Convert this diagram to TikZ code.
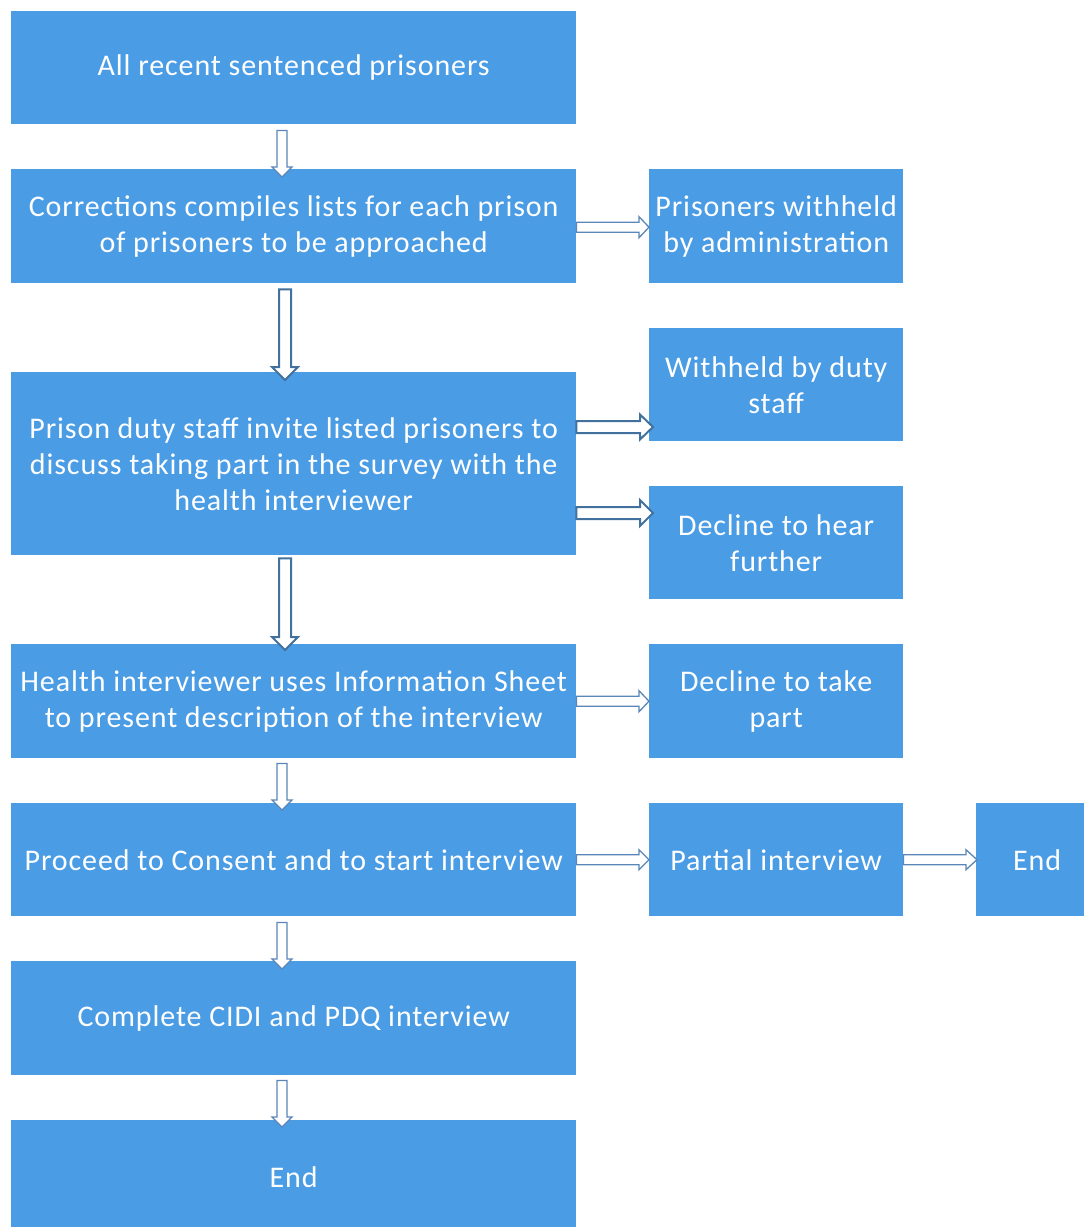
\documentclass[tikz,border=0pt]{standalone}
\usepackage{fontspec}
\setmainfont{Carlito}[LetterSpace=3.0]
\usetikzlibrary{calc}
\definecolor{boxblue}{HTML}{4A9CE5}
\definecolor{arrowdark}{HTML}{41719C}
\definecolor{arrowlight}{HTML}{5A86B8}
\newcommand\varrow[6]{%
  \draw[#6] let \p1=(#1), \p2=(#2) in
    (\x1-#3pt,\y1) -- (\x1-#3pt,\y2+#5pt) -- (\x1-#4pt,\y2+#5pt) -- (\x1,\y2)
    -- (\x1+#4pt,\y2+#5pt) -- (\x1+#3pt,\y2+#5pt) -- (\x1+#3pt,\y1) -- cycle;}
\newcommand\harrow[6]{%
  \draw[#6] let \p1=(#1), \p2=(#2) in
    (\x1,\y1+#3pt) -- (\x2-#5pt,\y1+#3pt) -- (\x2-#5pt,\y1+#4pt) -- (\x2,\y1)
    -- (\x2-#5pt,\y1-#4pt) -- (\x2-#5pt,\y1-#3pt) -- (\x1,\y1-#3pt) -- cycle;}
\begin{document}
\begin{tikzpicture}[x=1pt,y=-1pt,
  box/.style={fill=boxblue, text=white, align=center, inner sep=0pt, anchor=north west,
    font=\fontsize{30}{36}\selectfont},
  wide/.style={box, minimum width=565pt},
  side/.style={box, minimum width=254pt},
  thinarrow/.style={draw=arrowlight, fill=white, line width=1.3pt, line join=miter},
  thickarrow/.style={draw=arrowdark, fill=white, line width=2pt, line join=miter}]
\useasboundingbox (0,0) rectangle (1084,1227);

\node[wide, minimum height=113pt] (b1) at (11,11) {All recent sentenced prisoners};
\node[wide, minimum height=114pt] (b2) at (11,169) {Corrections compiles lists for each prison\\of prisoners to be approached};
\node[side, minimum height=114pt] (b3) at (649,169) {Prisoners withheld\\by administration};
\node[wide, minimum height=183pt] (b4) at (11,372) {Prison duty staff invite listed prisoners to\\discuss taking part in the survey with the\\health interviewer};
\node[side, minimum height=113pt] (b5) at (649,328) {Withheld by duty\\staff};
\node[side, minimum height=113pt] (b6) at (649,486) {Decline to hear\\further};
\node[wide, minimum height=114pt] (b7) at (11,644) {Health interviewer uses Information Sheet\\to present description of the interview};
\node[side, minimum height=114pt] (b8) at (649,644) {Decline to take\\part};
\node[wide, minimum height=113pt] (b9) at (11,803) {Proceed to Consent and to start interview};
\node[side, minimum height=113pt] (b10) at (649,803) {Partial interview};
\node[box, minimum width=122pt, minimum height=113pt] (b11) at (976,803) {End};
\node[wide, minimum height=114pt] (b12) at (11,961) {Complete CIDI and PDQ interview};
\node[wide, minimum height=113pt] (b13) at (11,1120) {End};

% vertical arrows
\varrow{$(b1.south west)+(271,6)$}{$(b2.north west)+(271,8)$}{5}{10}{10}{thinarrow}
\varrow{$(b2.south west)+(274,6)$}{$(b4.north west)+(274,8)$}{6}{13}{13}{thickarrow}
\varrow{$(b4.south west)+(274,3)$}{$(b7.north west)+(274,6)$}{6}{13}{13}{thickarrow}
\varrow{$(b7.south west)+(271,5)$}{$(b9.north west)+(271,7)$}{5}{10}{10}{thinarrow}
\varrow{$(b9.south west)+(271,6)$}{$(b12.north west)+(271,8)$}{5}{10}{10}{thinarrow}
\varrow{$(b12.south west)+(271,5)$}{$(b13.north west)+(271,7)$}{5}{10}{10}{thinarrow}

% horizontal arrows
\harrow{$(b2.east)+(0,1)$}{b3.west}{5}{10.5}{10}{thinarrow}
\harrow{$(b4.north east)+(0,55)$}{$(b5.west)+(4,0)$}{6}{12.5}{13}{thickarrow}
\harrow{$(b4.north east)+(0,141)$}{$(b6.west)+(4,0)$}{6}{13}{13}{thickarrow}
\harrow{b7.east}{b8.west}{5}{10.5}{10}{thinarrow}
\harrow{b9.east}{b10.west}{5}{10}{10}{thinarrow}
\harrow{b10.east}{$(b11.west)+(1,0)$}{5}{10}{11}{thinarrow}
\end{tikzpicture}
\end{document}
